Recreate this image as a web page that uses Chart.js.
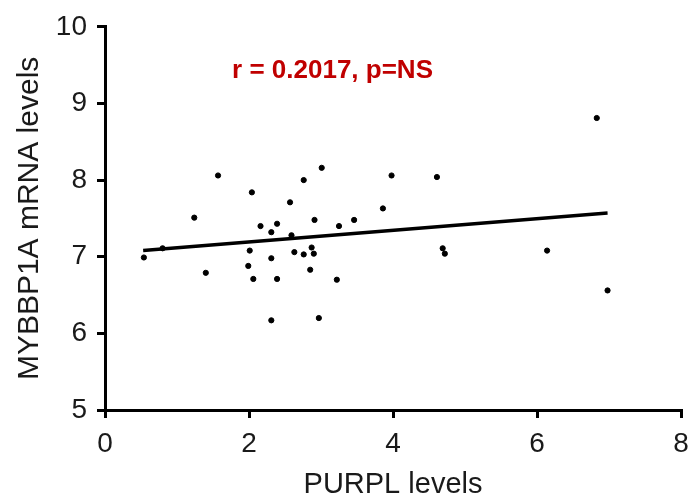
<!DOCTYPE html>
<html>
<head>
<meta charset="utf-8">
<script src="https://cdn.jsdelivr.net/npm/chart.js@4"></script>
<style>
  body { margin: 0; background: #fff; }
  #wrap { width: 690px; height: 500px; }
</style>
</head>
<body>
<div id="wrap"><canvas id="myChart" width="690" height="500"></canvas></div>
<script>
// PURPL vs MYBBP1A, one point per sample
const purpl = [0.54, 0.80, 1.24, 1.40, 1.57, 1.99, 2.01, 2.04, 2.06, 2.16, 2.31, 2.31, 2.31,
  2.39, 2.39, 2.57, 2.59, 2.63, 2.76, 2.76, 2.85, 2.87, 2.90, 2.91, 2.97, 3.01, 3.22, 3.25,
  3.46, 3.86, 3.98, 4.61, 4.69, 4.72, 6.14, 6.83, 6.98];
const mybbp1a = [6.99, 7.11, 7.51, 6.79, 8.06, 6.88, 7.08, 7.84, 6.71, 7.40, 7.32, 6.98, 6.17,
  7.43, 6.71, 7.71, 7.28, 7.06, 8.00, 7.03, 6.83, 7.12, 7.04, 7.48, 6.20, 8.16, 6.70, 7.40,
  7.48, 7.63, 8.06, 8.04, 7.11, 7.04, 7.08, 8.81, 6.56];

// linear fit end points
const fitX = [0.53, 6.98];
const fitY = [7.08, 7.57];

const xTicks = [0, 2, 4, 6, 8];
const yTicks = [5, 6, 7, 8, 9, 10];

const statText = 'r = 0.2017, p=NS';

const points = purpl.map((x, i) => ({ x: x, y: mybbp1a[i] }));
const fitLine = fitX.map((x, i) => ({ x: x, y: fitY[i] }));

const font = 'Arial, "Liberation Sans", sans-serif';

// writes the r / p text inside the plot
const statLabel = {
  id: 'statLabel',
  afterDatasetsDraw(chart) {
    const c = chart.ctx;
    const xs = chart.scales.x, ys = chart.scales.y;
    c.save();
    c.font = 'bold 26px ' + font;
    c.fillStyle = '#c00000';
    c.textAlign = 'center';
    c.textBaseline = 'middle';
    c.fillText(statText, xs.getPixelForValue(3.16), ys.getPixelForValue(9.43));
    c.restore();
  }
};

new Chart(document.getElementById('myChart'), {
  type: 'scatter',
  data: {
    datasets: [{
      label: 'samples',
      data: points,
      backgroundColor: '#000',
      borderColor: '#000',
      pointRadius: 2.6,
      pointHoverRadius: 2.6
    }, {
      label: 'fit',
      data: fitLine,
      showLine: true,
      borderColor: '#000',
      borderWidth: 3.5,
      pointRadius: 0
    }]
  },
  options: {
    responsive: false,
    animation: false,
    layout: { padding: { top: 25, right: 9, left: 0, bottom: 0 } },
    plugins: {
      legend: { display: false },
      tooltip: { enabled: false }
    },
    scales: {
      x: {
        type: 'linear',
        min: 0,
        max: 8,
        afterFit(scale) { scale.height = 90; scale.paddingRight = 0; },
        afterBuildTicks(scale) { scale.ticks = xTicks.map(v => ({ value: v })); },
        border: { display: true, color: '#000', width: 3 },
        grid: { drawOnChartArea: false, drawTicks: true, tickLength: 8, color: '#000', lineWidth: 3 },
        ticks: { color: '#1a1a1a', padding: 9, font: { family: font, size: 28 } },
        title: {
          display: true,
          text: 'PURPL levels',
          color: '#1a1a1a',
          padding: { top: 0, bottom: -2 },
          font: { family: font, size: 29 }
        }
      },
      y: {
        type: 'linear',
        min: 5,
        max: 10,
        afterFit(scale) { scale.width = 105; },
        afterBuildTicks(scale) { scale.ticks = yTicks.map(v => ({ value: v })); },
        border: { display: true, color: '#000', width: 3 },
        grid: { drawOnChartArea: false, drawTicks: true, tickLength: 8, color: '#000', lineWidth: 3 },
        ticks: { color: '#1a1a1a', padding: 10, font: { family: font, size: 28 } },
        title: {
          display: true,
          text: 'MYBBP1A mRNA levels',
          color: '#1a1a1a',
          padding: { top: 12, bottom: 0 },
          font: { family: font, size: 30 }
        }
      }
    }
  },
  plugins: [statLabel]
});
</script>
</body>
</html>
